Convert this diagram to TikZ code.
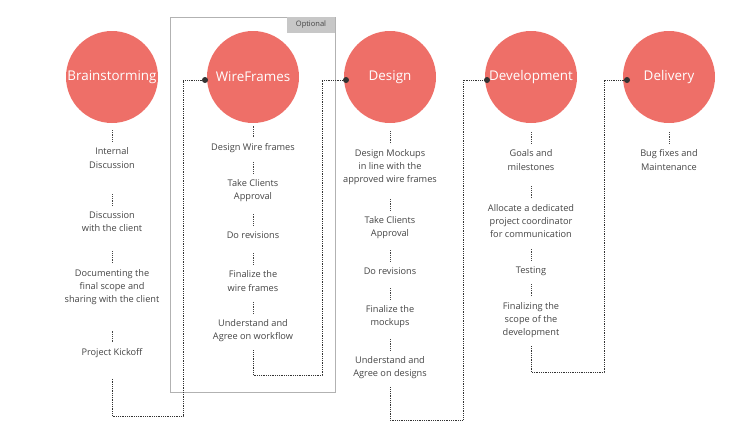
\documentclass[tikz,border=0pt]{standalone}
\usepackage{fontspec}
\setmainfont{Open Sans}
\usetikzlibrary{calc}
\definecolor{salmon}{HTML}{EE6F68}
\definecolor{ink}{HTML}{444444}
\tikzset{%
stage/.style={circle,fill=salmon,minimum size=92,inner sep=0pt,text=white,font=\fontsize{13.4}{15}\selectfont},
item/.style={align=center,text=ink,font=\fontsize{9.2}{13.2}\selectfont,inner sep=1pt},
gap/.style={draw=ink,densely dotted,line width=0.8pt},
link/.style={draw=black!80,densely dotted,line width=0.8pt},
joint/.style={circle,fill=black!80,minimum size=6,inner sep=0pt},
}
\newcommand{\gapline}[1]{\draw[gap] ([yshift=5]#1.north) -- ++(0,-12);}

\begin{document}
\begin{tikzpicture}[x=1pt,y=-1pt]
\useasboundingbox (0,0) rectangle (750,440);

% optional frame
\draw[black!30,line width=0.8pt] (170,17) rectangle (335,392);
\node[fill=black!22,minimum width=48,minimum height=16,inner sep=0pt,
      font=\fontsize{7.5}{8}\selectfont,text=ink] (opt) at (311,25) {Optional};

% stages
\node[stage] (brain) at (112,77) {Brainstorming};
\node[stage] (wire)  at (253,77) {WireFrames};
\node[stage] (design) at (390,77) {Design};
\node[stage] (dev)   at (531,77) {Development};
\node[stage] (deliv) at (669,77) {Delivery};

% brainstorming
\node[item] (b1) at (112,158) {Internal\\Discussion};
\node[item] (b2) at (112,222) {Discussion\\with the client};
\node[item] (b3) at (112,287) {Documenting the\\final scope and\\sharing with the client};
\node[item] (b4) at (112,353) {Project Kickoff};
\gapline{b1}
\gapline{b2}
\gapline{b3}
\gapline{b4}

% wireframes
\node[item] (w1) at (253,148) {Design Wire frames};
\node[item] (w2) at (253,191) {Take Clients\\Approval};
\node[item] (w3) at (253,235) {Do revisions};
\node[item] (w4) at (253,281) {Finalize the\\wire frames};
\node[item] (w5) at (253,331) {Understand and\\Agree on workflow};
\gapline{w1}
\gapline{w2}
\gapline{w3}
\gapline{w4}
\gapline{w5}

% design
\node[item] (d1) at (390,167) {Design Mockups\\in line with the\\approved wire frames};
\node[item] (d2) at (390,228) {Take Clients\\Approval};
\node[item] (d3) at (390,271) {Do revisions};
\node[item] (d4) at (390,317) {Finalize the\\mockups};
\node[item] (d5) at (390,368) {Understand and\\Agree on designs};
\gapline{d1}
\gapline{d2}
\gapline{d3}
\gapline{d4}
\gapline{d5}

% development
\node[item] (v1) at (531,160) {Goals and\\milestones};
\node[item] (v2) at (531,221) {Allocate a dedicated\\project coordinator\\for communication};
\node[item] (v3) at (531,271) {Testing};
\node[item] (v4) at (531,320) {Finalizing the\\scope of the\\development};
\gapline{v1}
\gapline{v2}
\gapline{v3}
\gapline{v4}

% delivery
\node[item] (l1) at (669,160) {Bug fixes and\\Maintenance};
\gapline{l1}

% joints on the circles
\node[joint] (j2) at (205,80) {};
\node[joint] (j3) at (346,80) {};
\node[joint] (j4) at (487,80) {};
\node[joint] (j5) at (627,80) {};

% turning points
\coordinate (t1) at (183,416);
\coordinate (t2) at (322,375);
\coordinate (t3) at (463,420);
\coordinate (t4) at (604,372);

\draw[link] ([yshift=-20]b4.south) -- (b4|-t1) -- (t1) |- (j2);
\draw[link] ([yshift=-7]w5.south) -- (w5|-t2) -- (t2) |- (j3);
\draw[link] ([yshift=-7]d5.south) -- (d5|-t3) -- (t3) |- (j4);
\draw[link] ([yshift=-7]v4.south) -- (v4|-t4) -- (t4) |- (j5);
\end{tikzpicture}
\end{document}
